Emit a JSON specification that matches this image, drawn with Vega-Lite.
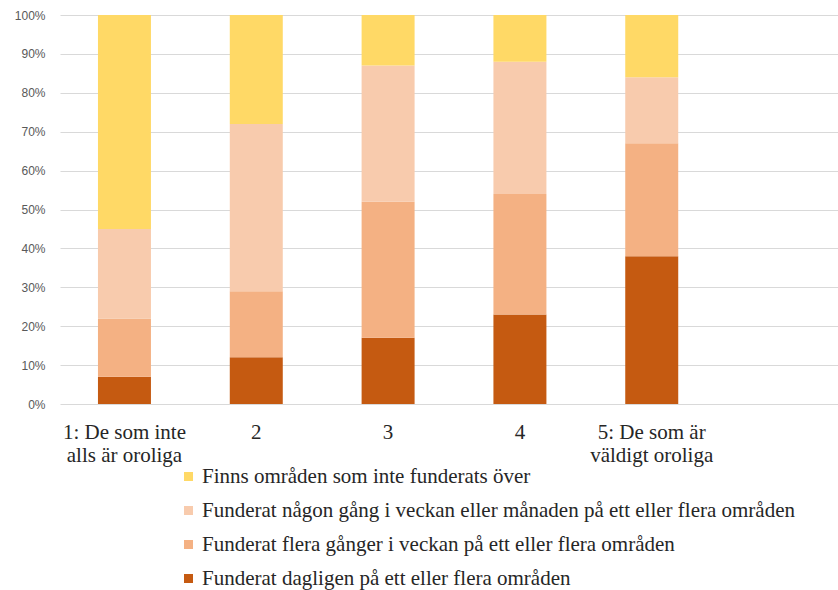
{
  "$schema": "https://vega.github.io/schema/vega-lite/v6.json",
  "width": 778,
  "height": 389,
  "autosize": {"type": "none"},
  "padding": {"left": 60, "top": 15, "right": 0, "bottom": 186},
  "background": "white",
  "data": {
    "values": [
      {"grupp": "1: De som inte\nalls är oroliga", "ordning_x": 1, "kategori": "Funderat dagligen på ett eller flera områden", "stapel": 1, "andel": 7},
      {"grupp": "1: De som inte\nalls är oroliga", "ordning_x": 1, "kategori": "Funderat flera gånger i veckan på ett eller flera områden", "stapel": 2, "andel": 15},
      {"grupp": "1: De som inte\nalls är oroliga", "ordning_x": 1, "kategori": "Funderat någon gång i veckan eller månaden på ett eller flera områden", "stapel": 3, "andel": 23},
      {"grupp": "1: De som inte\nalls är oroliga", "ordning_x": 1, "kategori": "Finns områden som inte funderats över", "stapel": 4, "andel": 55},
      {"grupp": "2", "ordning_x": 2, "kategori": "Funderat dagligen på ett eller flera områden", "stapel": 1, "andel": 12},
      {"grupp": "2", "ordning_x": 2, "kategori": "Funderat flera gånger i veckan på ett eller flera områden", "stapel": 2, "andel": 17},
      {"grupp": "2", "ordning_x": 2, "kategori": "Funderat någon gång i veckan eller månaden på ett eller flera områden", "stapel": 3, "andel": 43},
      {"grupp": "2", "ordning_x": 2, "kategori": "Finns områden som inte funderats över", "stapel": 4, "andel": 28},
      {"grupp": "3", "ordning_x": 3, "kategori": "Funderat dagligen på ett eller flera områden", "stapel": 1, "andel": 17},
      {"grupp": "3", "ordning_x": 3, "kategori": "Funderat flera gånger i veckan på ett eller flera områden", "stapel": 2, "andel": 35},
      {"grupp": "3", "ordning_x": 3, "kategori": "Funderat någon gång i veckan eller månaden på ett eller flera områden", "stapel": 3, "andel": 35},
      {"grupp": "3", "ordning_x": 3, "kategori": "Finns områden som inte funderats över", "stapel": 4, "andel": 13},
      {"grupp": "4", "ordning_x": 4, "kategori": "Funderat dagligen på ett eller flera områden", "stapel": 1, "andel": 23},
      {"grupp": "4", "ordning_x": 4, "kategori": "Funderat flera gånger i veckan på ett eller flera områden", "stapel": 2, "andel": 31},
      {"grupp": "4", "ordning_x": 4, "kategori": "Funderat någon gång i veckan eller månaden på ett eller flera områden", "stapel": 3, "andel": 34},
      {"grupp": "4", "ordning_x": 4, "kategori": "Finns områden som inte funderats över", "stapel": 4, "andel": 12},
      {"grupp": "5: De som är\nväldigt oroliga", "ordning_x": 5, "kategori": "Funderat dagligen på ett eller flera områden", "stapel": 1, "andel": 38},
      {"grupp": "5: De som är\nväldigt oroliga", "ordning_x": 5, "kategori": "Funderat flera gånger i veckan på ett eller flera områden", "stapel": 2, "andel": 29},
      {"grupp": "5: De som är\nväldigt oroliga", "ordning_x": 5, "kategori": "Funderat någon gång i veckan eller månaden på ett eller flera områden", "stapel": 3, "andel": 17},
      {"grupp": "5: De som är\nväldigt oroliga", "ordning_x": 5, "kategori": "Finns områden som inte funderats över", "stapel": 4, "andel": 16}
    ]
  },
  "mark": {"type": "bar"},
  "encoding": {
    "x": {
      "field": "grupp",
      "type": "nominal",
      "sort": {"field": "ordning_x"},
      "scale": {"paddingInner": 0.598, "paddingOuter": 0.75, "align": 0.192},
      "axis": {
        "title": null,
        "labelAngle": 0,
        "labelAlign": "center",
        "labelBaseline": "top",
        "labelExpr": "split(datum.label, '\\n')",
        "labelFont": "Liberation Serif",
        "labelFontSize": 21,
        "labelLineHeight": 23,
        "labelColor": "#262626",
        "labelPadding": 17,
        "labelLimit": 300,
        "ticks": false,
        "domain": false
      }
    },
    "y": {
      "field": "andel",
      "type": "quantitative",
      "stack": "normalize",
      "scale": {"domain": [0, 1]},
      "axis": {
        "title": null,
        "values": [0, 0.1, 0.2, 0.3, 0.4, 0.5, 0.6, 0.7, 0.8, 0.9, 1],
        "format": ".0%",
        "labelFont": "Liberation Sans",
        "labelFontSize": 12,
        "labelColor": "#595959",
        "labelPadding": 15,
        "ticks": false,
        "domain": false,
        "gridColor": "#d9d9d9",
        "gridWidth": 1
      }
    },
    "color": {
      "field": "kategori",
      "type": "nominal",
      "scale": {
        "domain": [
          "Finns områden som inte funderats över",
          "Funderat någon gång i veckan eller månaden på ett eller flera områden",
          "Funderat flera gånger i veckan på ett eller flera områden",
          "Funderat dagligen på ett eller flera områden"
        ],
        "range": ["#FFD966", "#F8CBAD", "#F4B183", "#C55A11"]
      },
      "legend": {
        "title": null,
        "orient": "none",
        "legendX": 118,
        "legendY": 451,
        "direction": "vertical",
        "symbolType": "square",
        "symbolSize": 81,
        "symbolStrokeWidth": 0,
        "labelFont": "Liberation Serif",
        "labelFontSize": 21,
        "labelColor": "#262626",
        "labelLimit": 800,
        "labelOffset": 3,
        "rowPadding": 12
      }
    },
    "order": {"field": "stapel", "type": "quantitative", "sort": "ascending"}
  },
  "config": {
    "view": {"stroke": null}
  }
}
